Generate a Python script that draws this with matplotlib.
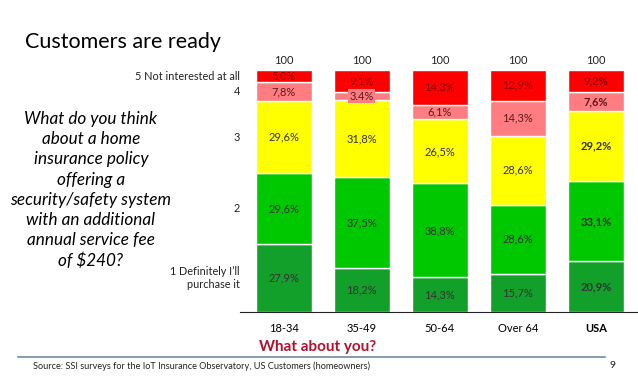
import numpy as np
import matplotlib.pyplot as plt

plt.rcParams['font.family'] = ['Lato', 'DejaVu Sans']

groups = ['18-34', '35-49', '50-64', 'Over 64', 'USA']
levels = ['1 Definitely I\u2019ll\npurchase it', '2', '3', '4', '5 Not interested at all']
# share of answers per level (1 = definitely buy ... 5 = not interested)
lvl1 = [27.9, 18.2, 14.3, 15.7, 20.9]
lvl2 = [29.6, 37.5, 38.8, 28.6, 33.1]
lvl3 = [29.6, 31.8, 26.5, 28.6, 29.2]
lvl4 = [7.8, 3.4, 6.1, 14.3, 7.6]
lvl5 = [5.0, 9.1, 14.3, 12.9, 9.2]
totals = [100, 100, 100, 100, 100]

colors = ['#12A02A', '#00C800', '#FFFF00', '#FF7C80', '#FF0000']
txt_colors = ['#333333', '#333333', '#333333', '#5a1a1a', '#8B0000']

fig = plt.figure(figsize=(6.38, 3.88), dpi=100)
ax = fig.add_axes([240 / 638, 1 - 312 / 388, 398 / 638, 242 / 388])

x = np.arange(len(groups))
series = [lvl1, lvl2, lvl3, lvl4, lvl5]
bottom = np.zeros(len(groups))
for k, vals in enumerate(series):
    vals = np.array(vals)
    ax.bar(x, vals, 0.72, bottom=bottom, color=colors[k], edgecolor='white', linewidth=1)
    for i, v in enumerate(vals):
        lab = f"{v:.1f}%".replace('.', ',')
        kw = {}
        if groups[i] == '35-49' and k == 3:
            lab = f"{v:.1f}%"
            kw['bbox'] = dict(facecolor=colors[3], edgecolor='none', pad=1)
        ax.text(x[i], bottom[i] + v / 2, lab, ha='center', va='center', fontsize=8,
                color=txt_colors[k], fontweight='bold' if groups[i] == 'USA' else 'normal', **kw)
    # category labels beside the first bar
    ax.text(-0.56, bottom[0] + vals[0] / 2, levels[k], ha='right', va='center',
            fontsize=7.8, color='#222222', clip_on=False)
    bottom += vals

for i, t in enumerate(totals):
    ax.text(x[i], 101.5, str(t), ha='center', va='bottom', fontsize=8, color='#222222')

ax.set_xlim(-0.56, 4.54)
ax.set_ylim(0, 100)
ax.set_xticks(x)
ax.set_xticklabels(groups, fontsize=8)
ax.get_xticklabels()[-1].set_fontweight('bold')
ax.tick_params(axis='x', length=0, pad=8)
ax.set_yticks([])
for s in ['top', 'right', 'left']:
    ax.spines[s].set_visible(False)
ax.spines['bottom'].set_color('#222222')

fig.text(25 / 638, 1 - 42 / 388, 'Customers are ready', fontsize=15.5, va='center', ha='left')
fig.text(91 / 638, 1 - 190 / 388,
         'What do you think\nabout a home\ninsurance policy\noffering a\nsecurity/safety system\n'
         'with an additional\nannual service fee\nof $240?',
         fontsize=12.3, style='italic', ha='center', va='center', linespacing=1.32)
fig.text(318 / 638, 1 - 347 / 388, 'What about you?', fontsize=11, fontweight='bold',
         color='#B3122B', ha='center', va='center')
fig.add_artist(plt.Line2D([18 / 638, 605 / 638], [1 - 357 / 388] * 2, color='#6F8BA8', lw=1.2))
fig.text(33 / 638, 1 - 366 / 388, 'Source: SSI surveys for the IoT Insurance Observatory, US Customers (homeowners)',
         fontsize=6.6, ha='left', va='center', color='#222222')
fig.text(612 / 638, 1 - 365 / 388, '9', fontsize=7.5, ha='center', va='center', color='#222222')

plt.savefig('out.png', dpi=100)
